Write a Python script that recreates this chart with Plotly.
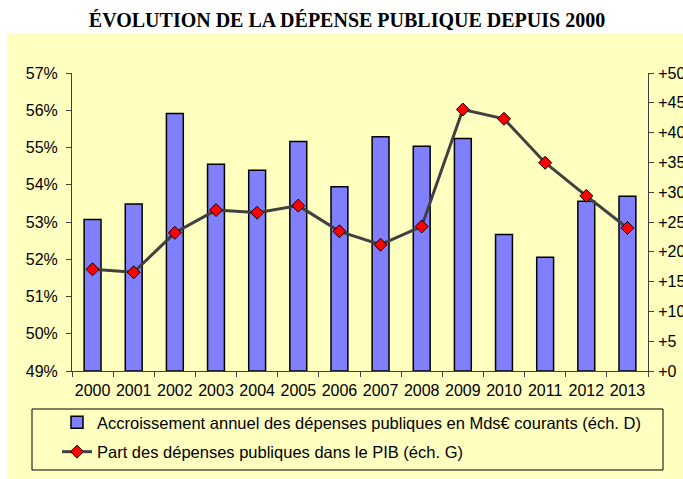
import plotly.graph_objects as go

years = ["2000", "2001", "2002", "2003", "2004", "2005", "2006",
         "2007", "2008", "2009", "2010", "2011", "2012", "2013"]
accroissement = [25.4, 28.0, 43.2, 34.7, 33.7, 38.5, 30.9,
                 39.3, 37.7, 39.0, 22.9, 19.1, 28.5, 29.3]
part_pib = [51.73, 51.65, 52.71, 53.32, 53.25, 53.44, 52.75,
            52.39, 52.88, 56.02, 55.77, 54.59, 53.70, 52.84]
left_ticks = [49, 50, 51, 52, 53, 54, 55, 56, 57]
right_ticks = [0, 5, 10, 15, 20, 25, 30, 35, 40, 45, 50]

W, H = 683, 479
OFF = 0  # page body margin removed via post_script
L, R, T, B = 72 - OFF, 648 - OFF, 73 - OFF, 371 - OFF


def px(x):
    return (x - OFF - L) / (R - L)


def py(y):
    return (B - (y - OFF)) / (B - T)


FONT = "Liberation Sans, Arial, sans-serif"

fig = go.Figure()
fig.add_trace(go.Bar(
    x=years, y=accroissement, yaxis="y", legendgroup="a",
    name="Accroissement annuel des dépenses publiques en Mds€ courants (éch. D)",
    marker=dict(color="#8080FF", line=dict(color="#000000", width=1.5)),
    width=0.41,
))
fig.add_trace(go.Scatter(
    x=years, y=part_pib, yaxis="y2", mode="lines+markers", legendgroup="b",
    name="Part des dépenses publiques dans le PIB (éch. G)",
    line=dict(color="#404040", width=3),
    marker=dict(symbol="diamond", size=10, color="#FF0000",
                line=dict(color="#000000", width=1)),
))

fig.update_layout(
    width=W, height=H,
    margin=dict(l=L, r=W - R, t=T, b=H - B, autoexpand=False),
    paper_bgcolor="white", plot_bgcolor="rgba(0,0,0,0)",
    font=dict(family=FONT, size=16, color="black"),
    showlegend=True,
    title=dict(text="<b>ÉVOLUTION DE LA DÉPENSE PUBLIQUE DEPUIS 2000</b>",
               x=px(347), xanchor="center", xref="paper",
               y=1 - (20 - OFF) / H, yanchor="middle",
               font=dict(family="Liberation Serif, Times New Roman, serif",
                         size=20, color="black")),
    xaxis=dict(type="category", range=[-0.5, len(years) - 0.5],
               showline=True, linecolor="#404040", linewidth=1,
               ticks="outside", tickson="boundaries", ticklen=5, tickcolor="#404040",
               ticklabelstandoff=5,
               showgrid=False, tickfont=dict(size=16), tickangle=0, automargin=False),
    yaxis=dict(side="right", range=[0, 50], tickvals=right_ticks,
               ticktext=["+" + str(v) for v in right_ticks],
               showline=True, linecolor="#404040", linewidth=1,
               ticks="outside", ticklen=5, tickcolor="#404040",
               ticklabelstandoff=1,
               showgrid=False, zeroline=False, tickfont=dict(size=16), automargin=False),
    yaxis2=dict(side="left", overlaying="y", range=[49, 57], tickvals=left_ticks,
                ticktext=[str(v) + "%" for v in left_ticks],
                showline=True, linecolor="#404040", linewidth=1,
                ticks="outside", ticklen=5, tickcolor="#404040",
                ticklabelstandoff=5,
                showgrid=False, zeroline=False, tickfont=dict(size=16), automargin=False),
    legend=dict(x=px(57), y=py(405), xanchor="left", yanchor="top",
                bgcolor="rgba(0,0,0,0)", borderwidth=0,
                traceorder="grouped", tracegroupgap=5,
                font=dict(family=FONT, size=16.5, color="black")),
    bargap=0.59,
)

# yellow panel background
fig.add_shape(type="rect", xref="paper", yref="paper", layer="below",
              x0=px(7), x1=px(W + 20), y0=py(H + 20), y1=py(33),
              fillcolor="#FFFFC0", line=dict(width=0))
# legend box
fig.add_shape(type="rect", xref="paper", yref="paper", layer="below",
              x0=px(32), x1=px(663), y0=py(470), y1=py(409),
              fillcolor="rgba(0,0,0,0)", line=dict(color="#000000", width=1))

fig.write_html(
    "out.html",
    config={"displayModeBar": False},
    post_script="document.body.style.margin='0';document.body.style.overflow='hidden';",
)
